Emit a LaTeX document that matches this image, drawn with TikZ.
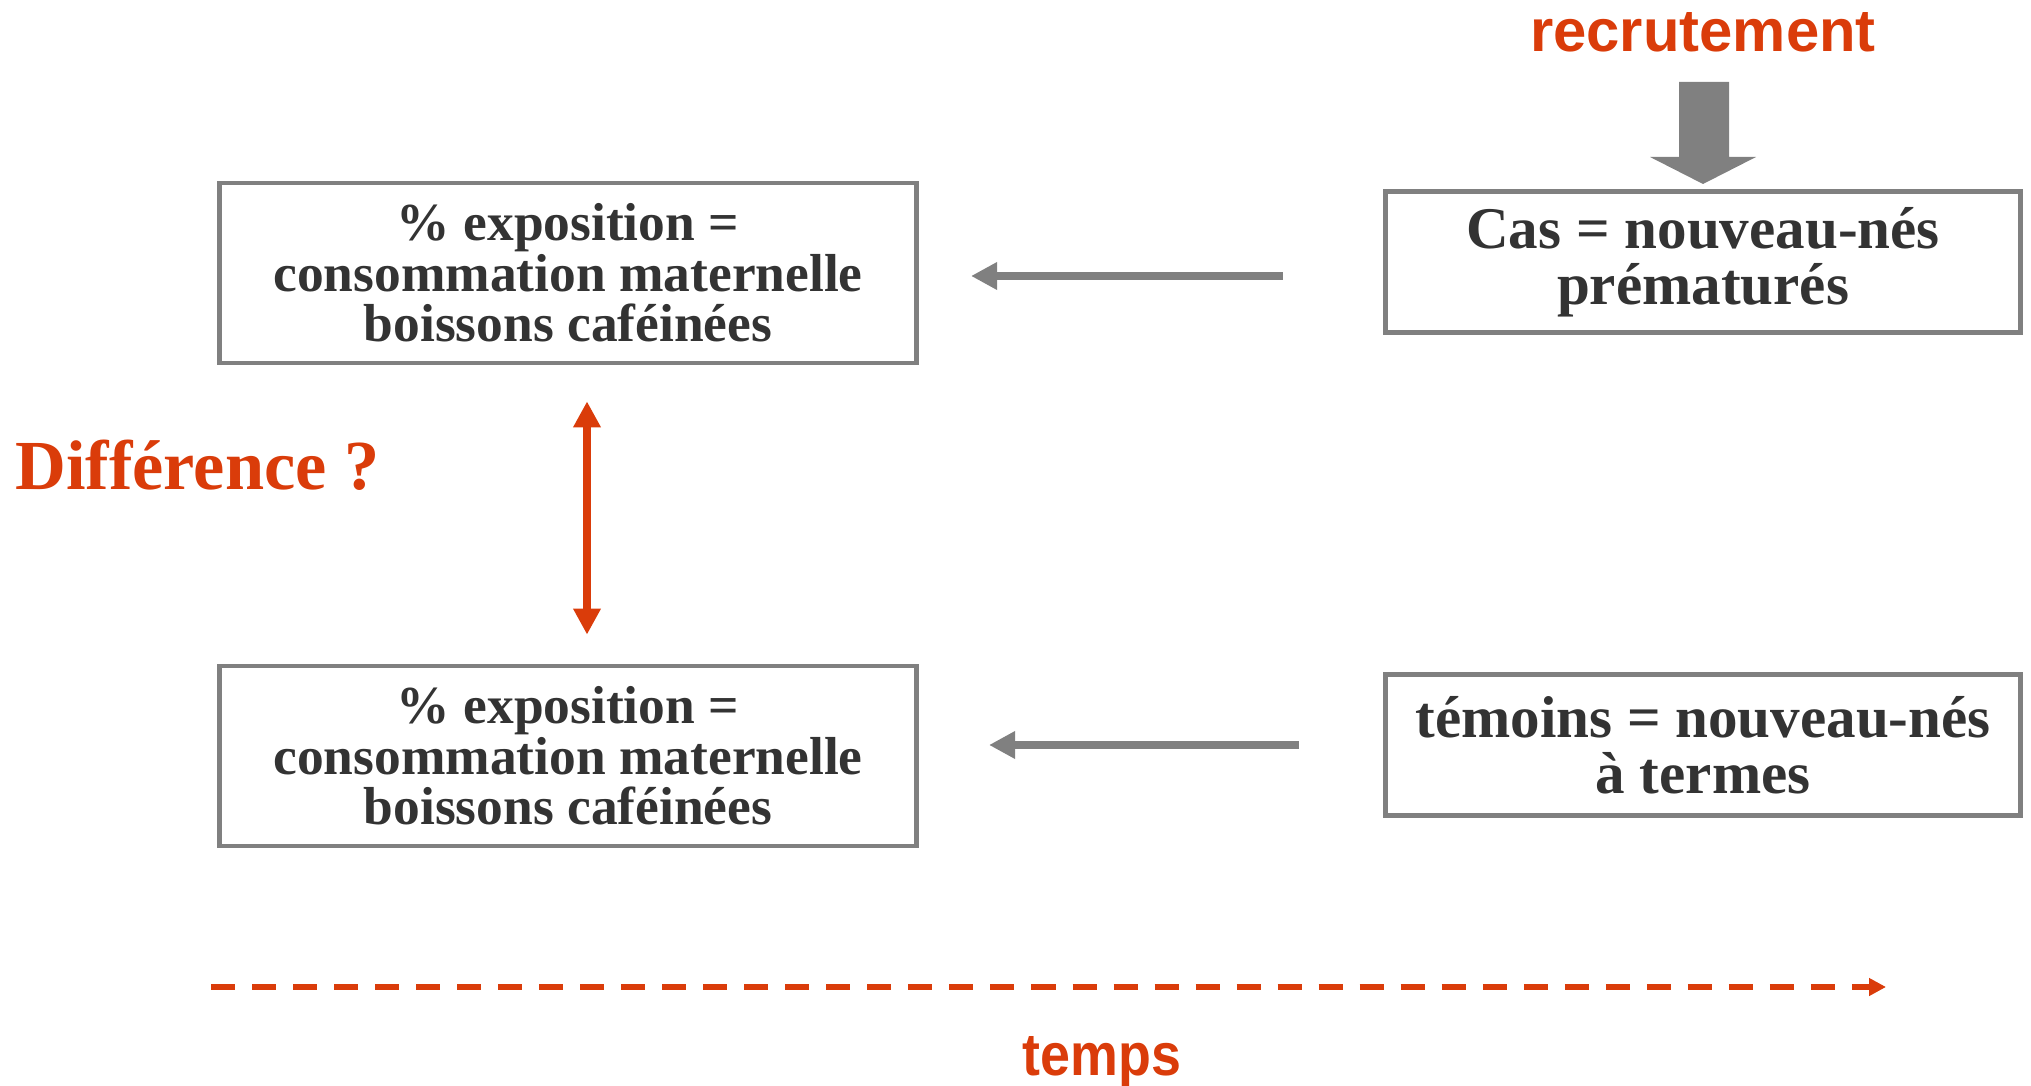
\documentclass[tikz,border=0pt]{standalone}
\usepackage{fontspec}
\setmainfont{Liberation Serif}
\newfontfamily\labelsans{Liberation Sans}
\newfontfamily\narrowsans{Liberation Sans}[FakeStretch=0.9]
\usetikzlibrary{arrows.meta}
\definecolor{rouge}{RGB}{218,60,10}
\definecolor{gristrait}{RGB}{128,128,128}
\definecolor{gristexte}{RGB}{51,51,51}

\begin{document}
\begin{tikzpicture}[x=0.01cm,y=-0.01cm,
  expobox/.style={draw=gristrait,line width=1.3pt,minimum width=6.97cm,minimum height=1.8cm,inner sep=0pt,
    align=center,text=gristexte,font=\bfseries\fontsize{15.2}{14.4}\selectfont},
  groupbox/.style={draw=gristrait,line width=1.3pt,minimum width=6.35cm,minimum height=1.41cm,inner sep=0pt,
    align=center,text=gristexte,font=\bfseries\fontsize{16.8}{15.8}\selectfont},
  grayarrow/.style={gristrait,line width=2.4pt,-{Triangle[length=0.26cm,width=0.26cm]}},
  redarrow/.style={rouge,line width=2.5pt,{Triangle[length=0.26cm,width=0.26cm]}-{Triangle[length=0.26cm,width=0.26cm]}}]
\useasboundingbox (0,0) rectangle (2031,1086);
%the four boxes
\node[expobox] (expo1) at (568,273) {\% exposition =\\consommation maternelle\\boissons caféinées};
\node[expobox] (expo2) at (568,756) {\% exposition =\\consommation maternelle\\boissons caféinées};
\node[groupbox] (cas) at (1703,262) {Cas = nouveau-nés\\prématurés};
\node[groupbox] (temoins) at (1703,745) {témoins = nouveau-nés\\à termes};
%recruitment
\node[text=rouge,font=\labelsans\bfseries\fontsize{17}{20}\selectfont,anchor=base] (recrut) at (1703,52) {recrutement};
\fill[gristrait] (1679,82) -- (1729,82) -- (1729,157) -- (1756,157) -- (1703,184) -- (1650,157) -- (1679,157) -- cycle;
%going back to the exposure
\draw[grayarrow,shorten <=1cm,shorten >=0.52cm] ([yshift=-0.03cm]cas.west |- expo1.east) -- ([yshift=-0.03cm]expo1.east);
\draw[grayarrow,shorten <=0.84cm,shorten >=0.7cm] (temoins.west) -- (temoins.west -| expo2.east);
%compare the two groups
\node[text=rouge,font=\bfseries\fontsize{20}{24}\selectfont,anchor=base west] (diff) at (3,490) {Différence ?};
\draw[redarrow,shorten <=0.36cm,shorten >=0.29cm] ([xshift=0.19cm]expo1.south) -- ([xshift=0.19cm]expo2.north);
%time axis
\coordinate (t0) at (211,987);
\coordinate (t1) at (1886,987);
\draw[rouge,line width=1.6pt,dash pattern=on 0.24cm off 0.17cm,-{Triangle[length=0.17cm,width=0.17cm]}] (t0) -- (t1);
\node[text=rouge,font=\narrowsans\bfseries\fontsize{17}{20}\selectfont,anchor=base] (temps) at (1102,1075) {temps};
\end{tikzpicture}
\end{document}
